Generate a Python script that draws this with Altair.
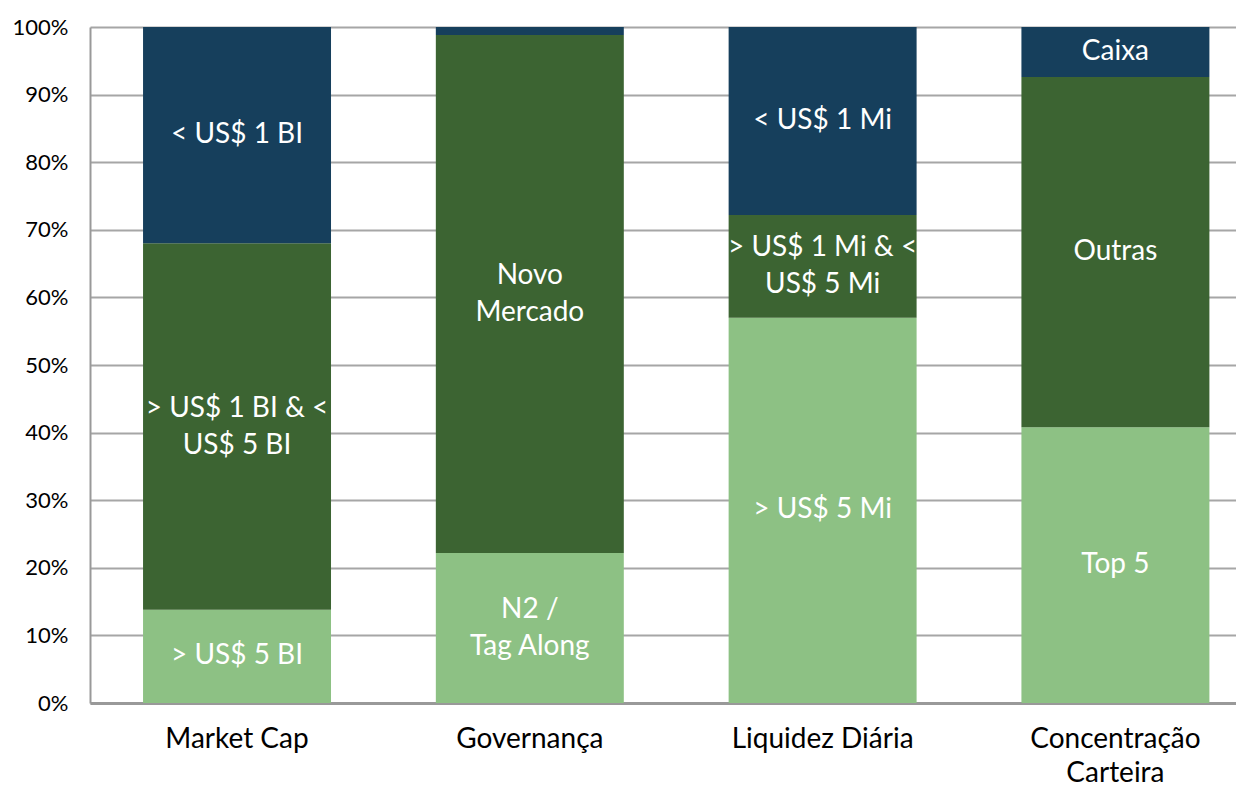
import altair as alt
import pandas as pd

categories = ["Market Cap", "Governança", "Liquidez Diária", "Concentração Carteira"]
segments = ["light", "dark", "navy"]
light_vals = [13.8, 22.2, 57.0, 40.8]
dark_vals = [54.2, 76.6, 15.2, 51.8]
navy_vals = [32.0, 1.2, 27.8, 7.4]
light_labels = ["> US$ 5 BI", "N2 /\nTag Along", "> US$ 5 Mi", "Top 5"]
dark_labels = ["> US$ 1 BI & <\nUS$ 5 BI", "Novo\nMercado", "> US$ 1 Mi & <\nUS$ 5 Mi", "Outras"]
navy_labels = ["< US$ 1 BI", "", "< US$ 1 Mi", "Caixa"]
colors = ["#8dc184", "#3c6432", "#163f5c"]

rows = []
for i, c in enumerate(categories):
    base = 0.0
    for seg, vals, labs in zip(segments, [light_vals, dark_vals, navy_vals],
                               [light_labels, dark_labels, navy_labels]):
        v = vals[i] / 100.0
        rows.append({"cat": c, "seg": seg, "y0": base, "y1": base + v,
                     "mid": base + v / 2, "label": labs[i],
                     "multi": "\n" in labs[i]})
        base += v
df = pd.DataFrame(rows)

FONT = "Lato"

x_enc = alt.X("cat:N", sort=categories, title=None,
              scale=alt.Scale(paddingInner=0.358, paddingOuter=0.136, align=0.666),
              axis=alt.Axis(labelAngle=0, labelFontSize=28, labelColor="black",
                            labelFont=FONT, labelPadding=22, ticks=False,
                            domainColor="#999999", domainWidth=3,
                            labelLineHeight=34, labelLimit=0,
                            labelExpr="datum.label == 'Concentração Carteira' ? ['Concentração', 'Carteira'] : datum.label"))

bars = alt.Chart(df).mark_bar().encode(
    x=x_enc,
    y=alt.Y("y0:Q", scale=alt.Scale(domain=[0, 1]), title=None,
            axis=alt.Axis(format=".0%", values=[i / 10 for i in range(11)],
                          labelFontSize=22, labelColor="black", labelFont=FONT,
                          labelPadding=22, ticks=False, domainColor="#999999",
                          domainWidth=2, gridColor="#a6a6a6", gridWidth=2)),
    y2="y1:Q",
    color=alt.Color("seg:N", scale=alt.Scale(domain=segments, range=colors), legend=None),
)

text_props = dict(color="white", fontSize=28, font=FONT, lineBreak="\n",
                  lineHeight=37, align="center", baseline="middle")

texts_single = alt.Chart(df).transform_filter("!datum.multi").mark_text(**text_props).encode(
    x=alt.X("cat:N", sort=categories),
    y=alt.Y("mid:Q"),
    text="label:N",
)
texts_multi = alt.Chart(df).transform_filter("datum.multi").mark_text(dy=-18, **text_props).encode(
    x=alt.X("cat:N", sort=categories),
    y=alt.Y("mid:Q"),
    text="label:N",
)

chart = (bars + texts_single + texts_multi).properties(
    width=1146, height=676,
    autosize=alt.AutoSizeParams(type="none"),
    padding={"left": 82, "top": 19, "right": 0, "bottom": 86},
).configure_view(stroke=None)

chart.save("out.html", embed_options={"renderer": "svg", "actions": False})
